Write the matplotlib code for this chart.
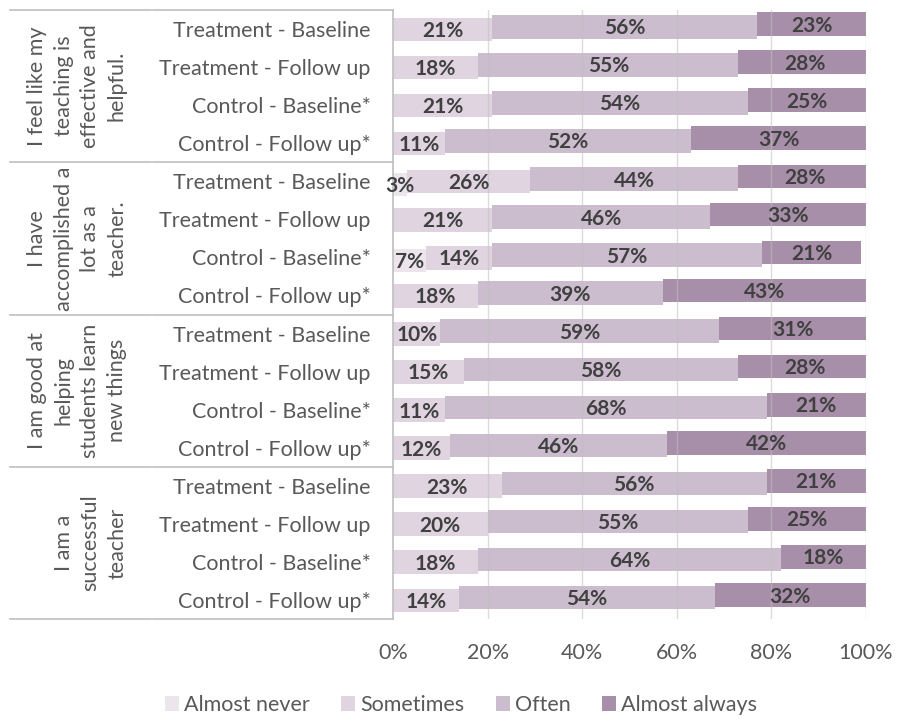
import matplotlib.pyplot as plt
import matplotlib.transforms as mtransforms
from matplotlib.patches import Patch
import numpy as np

plt.rcParams['font.family'] = ['Lato', 'DejaVu Sans']

# survey statements (one group of four bars each)
groups = ["I feel like my\nteaching is\neffective and\nhelpful.",
          "I have\naccomplished a\nlot as a\nteacher.",
          "I am good at\nhelping\nstudents learn\nnew things",
          "I am a\nsuccessful\nteacher"]
rows = ["Treatment - Baseline", "Treatment - Follow up",
        "Control - Baseline*", "Control - Follow up*"]
responses = ["Almost never", "Sometimes", "Often", "Almost always"]

# percentages per bar, top to bottom
almost_never = [0, 0, 0, 0, 3, 0, 7, 0, 0, 0, 0, 0, 0, 0, 0, 0]
sometimes = [21, 18, 21, 11, 26, 21, 14, 18, 10, 15, 11, 12, 23, 20, 18, 14]
often = [56, 55, 54, 52, 44, 46, 57, 39, 59, 58, 68, 46, 56, 55, 64, 54]
almost_always = [23, 28, 25, 37, 28, 33, 21, 43, 31, 28, 21, 42, 21, 25, 18, 32]

colors = ['#ECE5EC', '#DFD4E0', '#CBBCCE', '#A88FA9']
label_color = '#404040'
text_color = '#595959'
line_color = '#BFBFBF'
fs = 15.5

fig = plt.figure(figsize=(9.02, 7.27), dpi=100)
ax = fig.add_axes([393 / 902, 1 - 619 / 727, 473 / 902, 609 / 727])

series = [almost_never, sometimes, often, almost_always]
n = len(almost_never)
y = np.arange(n)
left = np.zeros(n)
for k, (vals, col) in enumerate(zip(series, colors)):
    v = np.array(vals) / 100
    yy = y - 0.07 * k + 0.08
    ax.barh(yy, v, left=left, height=0.62, color=col, zorder=2)
    for yi, li, vi in zip(yy, left, v):
        if vi > 0:
            ax.text(li + vi / 2, yi + 0.04, f"{round(vi * 100)}%", ha='center', va='center',
                    fontsize=15, fontweight='bold', color=label_color, zorder=4)
    left = left + v

for gx in [0.2, 0.4, 0.6, 0.8, 1.0]:
    ax.axvline(gx, color='#BFBFBF', lw=1, alpha=0.55, zorder=3)

ax.set_xlim(0, 1)
ax.set_ylim(n - 0.5, -0.5)
ax.set_xticks([0, 0.2, 0.4, 0.6, 0.8, 1.0])
ax.set_xticklabels(["0%", "20%", "40%", "60%", "80%", "100%"])
ax.set_yticks(y)
ax.set_yticklabels(rows * len(groups))
ax.tick_params(axis='x', length=0, pad=17, labelsize=fs, labelcolor=text_color)
ax.tick_params(axis='y', length=0, pad=16, labelsize=fs, labelcolor=text_color)
for s in ['top', 'right', 'bottom']:
    ax.spines[s].set_visible(False)
ax.spines['left'].set_color(line_color)
ax.spines['left'].set_linewidth(1.2)

# category separators and group labels on the left
trans = mtransforms.blended_transform_factory(fig.transFigure, ax.transData)
for b in [-0.5, 3.5, 7.5, 11.5, 15.5]:
    ax.plot([10 / 902, 151 / 902], [b, b], color=line_color, lw=1.2,
            transform=trans, clip_on=False)
    ax.plot([153 / 902, 393 / 902], [b, b], color=line_color, lw=1.2,
            transform=trans, clip_on=False)
for i, g in enumerate(groups):
    ax.text(127 / 902, 4 * i + 1.5, g, rotation=90, ha='right', va='center',
            multialignment='center', fontsize=fs, color=text_color,
            linespacing=1.42, transform=trans)

handles = [Patch(facecolor=c, edgecolor='none') for c in colors]
fig.legend(handles, responses, loc='center', bbox_to_anchor=(461 / 902, 1 - 705 / 727),
           ncol=4, frameon=False, fontsize=fs, handlelength=0.65, handleheight=0.65,
           handletextpad=0.25, columnspacing=1.45, labelcolor=text_color)

fig.savefig('out.png', dpi=100)
